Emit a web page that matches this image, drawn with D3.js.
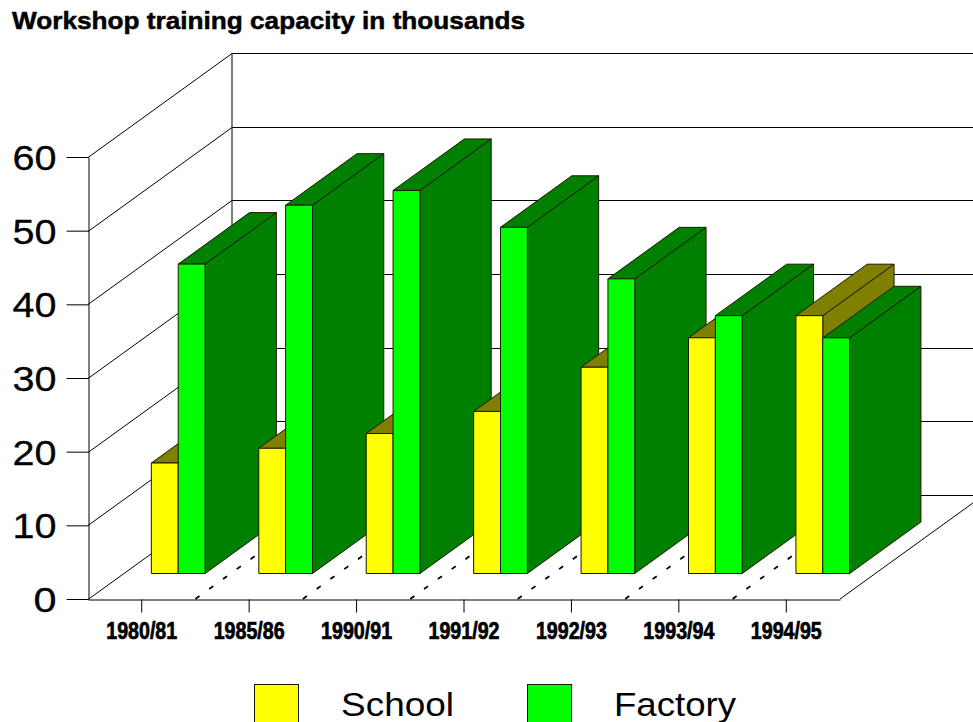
<!DOCTYPE html>
<html>
<head>
<meta charset="utf-8">
<script src="https://d3js.org/d3.v7.min.js"></script>
<style>
  html, body { margin: 0; padding: 0; background: #fff; overflow: hidden; }
  svg { display: block; font-family: "Liberation Sans", Arial, sans-serif; }
</style>
</head>
<body>
<svg id="chart" width="973" height="722"></svg>
<script>
const years = ['1980/81', '1985/86', '1990/91', '1991/92', '1992/93', '1993/94', '1994/95']
const school = [15, 17, 19, 22, 28, 32, 35]
const factory = [42, 50, 52, 47, 40, 35, 32]
const yTicks = [0, 10, 20, 30, 40, 50, 60]

const seriesList = [
  { name: 'School', values: school, front: '#ffff00', shade: '#808000', labelWidth: 113 },
  { name: 'Factory', values: factory, front: '#00ff00', shade: '#008000', labelWidth: 122 }
]

const svg = d3.select('#chart')
const ink = '#000'

const x = d3.scaleBand().domain(years).range([88, 840])
const y = d3.scaleLinear().domain([0, 60]).range([599, 157])
const barW = x.bandwidth() / 4

// the depth of the box, as a shift of the front plane
const depthX = 144
const depthY = -104
const barStart = 0.25
const barEnd = 0.745

function shift(p, d) {
  return [p[0] + depthX * d, p[1] + depthY * d]
}

const line = d3.line()

function drawLine(parent, a, b) {
  return parent.append('path')
    .attr('d', line([a, b]))
    .attr('fill', 'none')
    .attr('stroke', ink)
    .attr('stroke-width', 1)
}

// walls and floor
const walls = svg.append('g')
const [left, right] = x.range()
const wallTop = y(60)
drawLine(walls, shift([left, y(0)], 1), shift([left, wallTop], 1))
yTicks.forEach(t => {
  drawLine(walls, [left, Math.round(y(t)) + 0.5], shift([left, Math.round(y(t)) + 0.5], 1))
  drawLine(walls, shift([left, Math.round(y(t)) + 0.5], 1), shift([right, Math.round(y(t)) + 0.5], 1))
})
drawLine(walls, [right, y(0)], shift([right, y(0)], 1))

// dashed floor lines between categories
years.slice(1).forEach(d => {
  drawLine(walls, [x(d), y(0)], shift([x(d), y(0)], 1))
    .attr('stroke-dasharray', '5 12')
    .attr('stroke-width', 1.8)
})

// axes
const yAxis = d3.axisLeft(y).tickValues(yTicks).tickSize(22).tickSizeOuter(0).tickPadding(10)
const gy = svg.append('g').attr('transform', 'translate(88.5,0)').call(yAxis)
gy.selectAll('path, line').attr('stroke', ink)
gy.selectAll('text')
  .attr('font-family', '"Liberation Sans", Arial, sans-serif')
  .attr('font-size', 35)
  .attr('fill', ink)
  .attr('stroke', ink)
  .attr('stroke-width', 0.3)
  .attr('dy', '0.36em')
  .attr('textLength', 44)
  .attr('lengthAdjust', 'spacingAndGlyphs')

// the zero label is a single digit, it keeps its own width
gy.selectAll('.tick').filter(d => d === 0).select('text').attr('textLength', 23)

const xAxis = d3.axisBottom(x).tickSize(13).tickSizeOuter(0).tickPadding(10)
const gx = svg.append('g').attr('transform', 'translate(0,599.5)').call(xAxis)
gx.selectAll('path, line').attr('stroke', ink)
gx.selectAll('text')
  .attr('font-family', '"Liberation Sans", Arial, sans-serif')
  .attr('font-size', 23)
  .attr('font-weight', 'bold')
  .attr('fill', ink)
  .attr('stroke', ink)
  .attr('stroke-width', 0.7)
  .attr('textLength', 71)
  .attr('lengthAdjust', 'spacingAndGlyphs')

// bars, school behind factory in every category
const barStroke = '#1a1a00'
function face(parent, pts, fill) {
  parent.append('path')
    .attr('d', line(pts) + 'Z')
    .attr('fill', fill)
    .attr('stroke', barStroke)
    .attr('stroke-width', 1)
    .attr('stroke-linejoin', 'round')
}

years.forEach((year, i) => {
  const g = svg.append('g').attr('transform', 'translate(0.5,0.5)')
  seriesList.forEach((s, k) => {
    const x0 = x(year) + x.bandwidth() / 2 - barW + k * barW
    const x1 = x0 + barW
    const v = s.values[i]
    const base = y(0)
    const top = y(v)
    const fbl = shift([x0, base], barStart)
    const fbr = shift([x1, base], barStart)
    const ftl = shift([x0, top], barStart)
    const ftr = shift([x1, top], barStart)
    const bbr = shift([x1, base], barEnd)
    const btl = shift([x0, top], barEnd)
    const btr = shift([x1, top], barEnd)
    face(g, [fbr, bbr, btr, ftr], s.shade)
    face(g, [ftl, ftr, btr, btl], s.shade)
    face(g, [fbl, fbr, ftr, ftl], s.front)
  })
})

// title
svg.append('text')
  .attr('x', 12)
  .attr('y', 29)
  .attr('font-size', 24)
  .attr('font-weight', 'bold')
  .attr('fill', ink)
  .attr('stroke', ink)
  .attr('stroke-width', 0.5)
  .attr('textLength', 513)
  .attr('lengthAdjust', 'spacingAndGlyphs')
  .text('Workshop training capacity in thousands')

// legend
const legendX = d3.scaleOrdinal().domain(seriesList.map(s => s.name)).range([254, 527])
const legend = svg.append('g')
seriesList.forEach(s => {
  legend.append('rect')
    .attr('x', legendX(s.name) + 0.5)
    .attr('y', 684.5)
    .attr('width', 44)
    .attr('height', 44)
    .attr('fill', s.front)
    .attr('stroke', barStroke)
  legend.append('text')
    .attr('x', legendX(s.name) + 87)
    .attr('y', 716)
    .attr('font-size', 33)
    .attr('fill', ink)
    .attr('textLength', s.labelWidth)
    .attr('lengthAdjust', 'spacingAndGlyphs')
    .text(s.name)
})
</script>
</body>
</html>
